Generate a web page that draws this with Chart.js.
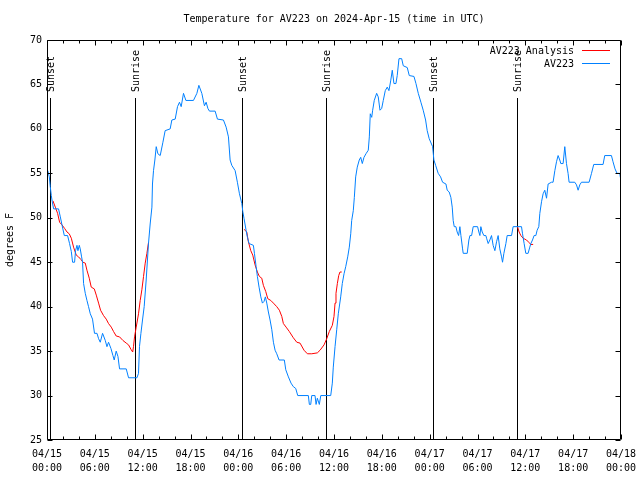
<!DOCTYPE html>
<html><head><meta charset="utf-8">
<script src="https://cdn.jsdelivr.net/npm/chart.js@4.4.1/dist/chart.umd.min.js"></script>
<style>html,body{margin:0;padding:0;background:#fff}canvas{display:block}</style>
</head><body>
<canvas id="c" width="640" height="480"></canvas>
<script>
const chartTitle = 'Temperature for AV223 on 2024-Apr-15 (time in UTC)';
const yTitle = 'degrees F';
const seriesLabels = ['AV223 Analysis', 'AV223'];
const xTickDates = ['04/15','04/15','04/15','04/15','04/16','04/16','04/16','04/16','04/17','04/17','04/17','04/17','04/18'];
const xTickTimes = ['00:00','06:00','12:00','18:00','00:00','06:00','12:00','18:00','00:00','06:00','12:00','18:00','00:00'];
const sunHours = [0.33, 10.98, 24.44, 35.04, 48.45, 58.97];
const sunLabels = ['Sunset','Sunrise','Sunset','Sunrise','Sunset','Sunrise'];

// AV223 observations: hours since 04/15 00:00 UTC, temperature F
const obsHours = [
0.10,0.29,0.41,0.54,0.66,0.83,1.45,1.67,1.88,2.17,
2.58,2.83,3.05,3.21,3.46,3.58,3.76,3.88,4.05,4.17,
4.34,4.46,4.59,4.80,5.01,5.21,5.43,5.71,5.96,6.27,
6.47,6.68,6.97,7.31,7.52,7.72,8.02,8.27,8.43,8.68,
8.90,9.10,9.94,10.23,11.28,11.48,11.60,11.78,11.98,12.19,
12.44,12.73,12.94,13.16,13.23,13.36,13.53,13.70,13.91,14.20,
14.54,14.82,15.45,15.66,16.08,16.37,16.62,16.83,17.12,17.42,
18.37,18.80,19.05,19.42,19.75,19.96,20.18,20.38,21.09,21.38,
22.13,22.47,22.76,22.97,23.18,23.60,23.88,24.14,24.44,24.56,
24.72,24.97,25.14,25.35,25.89,26.02,26.23,26.39,26.60,26.82,
27.02,27.23,27.39,27.57,27.77,27.98,28.20,28.40,28.61,28.82,
29.11,29.77,29.95,30.28,30.61,30.90,31.20,31.45,32.78,32.91,
33.08,33.21,33.62,33.75,33.91,34.16,34.34,35.59,35.79,35.91,
36.13,36.34,36.54,36.84,37.04,37.26,37.47,37.72,37.92,38.10,
38.22,38.42,38.55,38.72,38.92,39.17,39.35,39.55,39.76,40.01,
40.30,40.43,40.55,40.73,40.85,41.05,41.35,41.55,41.77,41.98,
42.18,42.43,42.68,42.89,43.11,43.31,43.52,43.77,43.93,44.15,
44.49,44.69,45.19,45.44,46.03,46.28,46.57,46.90,47.19,47.49,
47.69,47.94,48.37,48.53,48.75,49.07,49.37,49.62,50.04,50.20,
50.45,50.66,50.83,50.95,51.08,51.29,51.45,51.63,51.79,51.92,
52.13,52.21,52.71,52.92,53.05,53.26,53.46,54.01,54.17,54.30,
54.42,54.59,54.80,55.05,55.14,55.34,55.55,55.76,55.96,56.18,
56.39,56.59,56.80,57.02,57.14,57.31,57.56,57.72,58.27,58.47,
59.52,59.65,59.85,60.06,60.35,60.56,60.69,60.90,61.10,61.32,
61.48,61.69,61.82,62.03,62.23,62.44,62.66,62.86,63.28,63.48,
63.70,63.91,64.11,64.32,64.45,64.74,64.95,65.16,65.36,65.49,
66.20,66.42,66.62,66.83,67.04,68.00,68.30,68.58,69.75,69.96,
70.80,71.00,71.25,71.50,71.84,71.97];
const obsTemps = [
55.3,54.6,53.5,52.5,51.8,51.0,51.0,50.1,49.2,48.0,
48.0,47.1,46.2,45.0,45.0,46.3,46.9,46.3,46.9,46.5,
45.6,45.0,42.6,41.5,40.7,40.0,39.2,38.6,37.0,37.0,
36.4,36.0,37.0,36.2,35.5,36.0,35.3,34.5,34.0,35.0,
34.4,33.0,33.0,32.0,32.0,32.5,35.5,37.0,38.5,40.0,
43.0,47.1,49.3,51.2,53.8,55.3,56.5,58.0,57.2,57.0,
58.5,59.8,60.0,61.0,61.1,62.5,63.0,62.5,64.0,63.2,
63.2,64.0,64.9,64.0,62.6,63.0,62.3,62.0,62.0,61.1,
61.0,60.2,59.1,56.5,55.9,55.3,54.0,52.7,51.6,50.7,
49.9,48.6,47.8,47.1,46.9,46.0,44.5,43.4,42.2,41.1,
40.4,40.6,41.1,40.4,39.4,38.5,37.4,36.0,35.1,34.7,
34.0,34.0,32.9,32.1,31.4,31.0,30.8,30.0,30.0,29.0,
29.0,30.0,30.0,29.0,29.7,29.0,30.0,30.0,31.4,33.2,
35.5,37.4,39.2,41.1,42.6,43.7,44.5,45.6,46.7,48.2,
49.7,50.8,52.3,54.6,55.7,56.5,56.8,56.1,56.8,57.2,
57.6,59.1,61.7,61.3,62.1,63.2,64.0,63.6,62.1,62.3,
63.2,64.3,64.7,64.3,65.4,66.6,65.1,65.1,66.0,67.9,
67.9,67.1,66.9,66.0,65.9,65.1,64.0,63.0,62.1,61.0,
59.8,58.9,58.0,56.5,55.9,55.0,54.6,54.0,53.8,53.1,
52.9,52.3,51.2,49.7,49.0,49.0,48.4,48.0,49.0,48.0,
46.5,46.0,46.0,47.5,48.0,48.0,49.0,49.0,48.4,48.0,
49.0,48.4,48.0,48.0,47.7,47.1,47.5,48.0,46.9,46.3,
47.3,48.0,46.5,45.6,45.0,46.0,47.1,48.0,48.0,49.0,
49.0,48.2,47.1,46.0,46.0,46.7,47.1,47.5,48.0,48.0,
48.6,49.0,50.5,51.8,52.7,53.1,52.2,53.8,54.0,54.0,
55.3,56.3,57.0,56.5,56.1,56.1,58.0,56.1,55.0,54.0,
54.0,53.7,53.1,53.7,54.0,54.0,55.0,56.0,56.0,57.0,
57.0,56.3,55.5,55.0,55.0,54.3];

// AV223 Analysis (null = gap)
const anaHours = [
0.75,1.04,1.33,1.58,1.88,2.21,2.51,2.79,3.05,3.33,
3.67,3.96,4.26,4.51,4.80,5.01,5.30,5.55,5.93,6.18,
6.47,6.72,7.09,7.43,7.72,8.06,8.35,8.68,9.10,9.52,
9.94,10.23,10.53,10.75,10.85,10.98,11.19,11.48,11.69,11.90,
12.11,12.32,12.53,12.73,13.00,
24.72,25.06,25.26,25.56,25.81,26.10,26.39,26.64,26.94,27.14,
27.44,27.69,28.07,28.40,28.82,29.15,29.45,29.65,29.99,30.40,
30.90,31.33,31.74,32.24,32.66,33.21,33.91,34.25,34.75,35.09,
35.41,35.79,36.00,36.13,36.25,36.42,36.59,36.75,36.97,37.20,
59.02,59.22,59.44,59.72,60.15,60.48,60.69,60.98];
const anaTemps = [
51.9,51.2,50.5,49.5,49.2,48.8,48.4,48.2,47.7,46.7,
45.8,45.6,45.3,45.0,44.9,44.1,43.2,42.2,42.0,41.3,
40.4,39.6,39.0,38.6,38.1,37.7,37.2,36.7,36.6,36.2,
35.9,35.7,35.2,34.9,35.5,36.6,37.7,39.2,40.7,41.9,
43.4,44.9,46.0,47.2,null,
48.7,48.4,47.3,46.3,45.8,44.7,43.9,43.4,43.2,42.4,
41.7,40.9,40.7,40.4,40.0,39.6,38.9,38.1,37.7,37.2,
36.5,36.0,35.9,35.1,34.7,34.7,34.8,35.1,35.7,36.4,
37.2,37.9,38.9,40.4,41.5,42.6,43.5,43.9,43.9,null,
49.0,48.4,48.0,47.7,47.5,47.2,47.0,47.0];

const FONT = '"DejaVu Sans Mono", "Liberation Mono", monospace';
const RED = '#ff0000', BLUE = '#0080ff';

const obsData = obsHours.map((h, i) => ({x: h, y: obsTemps[i]}));
const anaData = anaHours.map((h, i) => ({x: h, y: anaTemps[i]}));

const decor = {
  id: 'decor',
  beforeDatasetsDraw(chart) {
    const {ctx, chartArea: a, scales: {x}} = chart;
    ctx.save();
    ctx.strokeStyle = '#000'; ctx.fillStyle = '#000'; ctx.lineWidth = 1;
    ctx.font = '10px ' + FONT;
    sunHours.forEach((h, i) => {
      const px = Math.round(x.getPixelForValue(h)) + 0.5;
      ctx.beginPath(); ctx.moveTo(px, a.top + 58); ctx.lineTo(px, a.bottom); ctx.stroke();
      ctx.save();
      ctx.translate(px + 1, a.top + 52);
      ctx.rotate(-Math.PI / 2);
      ctx.textAlign = 'left'; ctx.textBaseline = 'middle';
      ctx.fillText(sunLabels[i], 0, 0);
      ctx.restore();
    });
    ctx.restore();
  },
  afterDatasetsDraw(chart) {
    const {ctx, chartArea: a, scales: {x, y}} = chart;
    ctx.save();
    ctx.strokeStyle = '#000'; ctx.lineWidth = 1;
    const L = Math.round(a.left) + 0.5, R = Math.round(a.right) - 0.5;
    const T = Math.round(a.top) + 0.5, B = Math.round(a.bottom) - 0.5;
    ctx.beginPath();
    ctx.rect(L, T, R - L, B - T);
    for (let h = 0; h <= 72; h += 2) {
      const px = Math.round(x.getPixelForValue(h)) + 0.5;
      const len = (h % 6 === 0) ? 5 : 3;
      ctx.moveTo(px, B); ctx.lineTo(px, B - len);
      ctx.moveTo(px, T); ctx.lineTo(px, T + len);
    }
    y.ticks.forEach(t => {
      const py = Math.round(y.getPixelForValue(t.value)) + 0.5;
      ctx.moveTo(L, py); ctx.lineTo(L + 5, py);
      ctx.moveTo(R, py); ctx.lineTo(R - 5, py);
    });
    ctx.stroke();
    ctx.font = '10px ' + FONT;
    ctx.textAlign = 'right'; ctx.textBaseline = 'middle';
    const items = [{label: seriesLabels[0], color: RED}, {label: seriesLabels[1], color: BLUE}];
    items.forEach((it, i) => {
      const ty = a.top + 11 + i * 13;
      ctx.fillStyle = '#000';
      ctx.fillText(it.label, 574, ty);
      ctx.strokeStyle = it.color;
      ctx.beginPath();
      ctx.moveTo(582, Math.round(ty) - 0.5); ctx.lineTo(610, Math.round(ty) - 0.5);
      ctx.stroke();
    });
    ctx.restore();
  }
};

new Chart(document.getElementById('c'), {
  type: 'line',
  data: {
    datasets: [
      {label: seriesLabels[1], data: obsData, borderColor: BLUE, backgroundColor: BLUE, borderWidth: 1,
       pointRadius: 0, tension: 0, fill: false, order: 0},
      {label: seriesLabels[0], data: anaData, borderColor: RED, backgroundColor: RED, borderWidth: 1,
       pointRadius: 0, tension: 0, fill: false, spanGaps: false, order: 1}
    ]
  },
  options: {
    responsive: false, animation: false, devicePixelRatio: 1,
    layout: {padding: {left: 0, right: 19, top: 0, bottom: 0}},
    plugins: {
      legend: {display: false},
      tooltip: {enabled: false},
      title: {display: true, text: chartTitle, fullSize: false, color: '#000',
        font: {family: FONT, size: 10, weight: 'normal', lineHeight: 1.2},
        padding: {top: 13, bottom: 15}}
    },
    scales: {
      x: {type: 'linear', min: 0, max: 72,
        grid: {display: false, drawTicks: false}, border: {display: false},
        ticks: {stepSize: 6, autoSkip: false, maxRotation: 0, padding: 7, color: '#000',
          font: {family: FONT, size: 10, lineHeight: 1.4},
          callback: v => { const i = Math.round(v / 6); return [xTickDates[i], xTickTimes[i]]; }},
        afterFit: s => { s.height = 40; s.paddingLeft = 0; s.paddingRight = 0; }},
      y: {min: 25, max: 70,
        grid: {display: false, drawTicks: false}, border: {display: false},
        ticks: {stepSize: 5, padding: 5, color: '#000', font: {family: FONT, size: 10}},
        title: {display: true, text: yTitle, color: '#000', font: {family: FONT, size: 10, lineHeight: 1.2},
          padding: {top: 4, bottom: 0}},
        afterFit: s => { s.width = 47; s.paddingTop = 0; s.paddingBottom = 0; }}
    }
  },
  plugins: [decor]
});
</script>
</body></html>
